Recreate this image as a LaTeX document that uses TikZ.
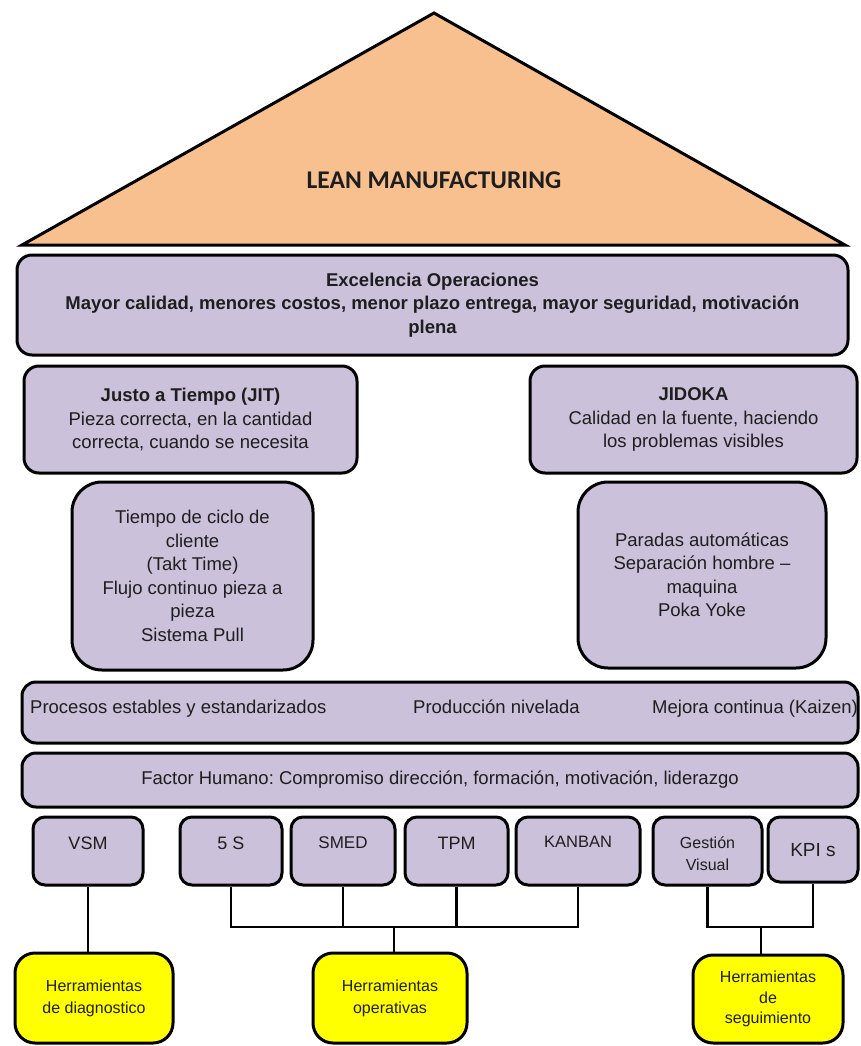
\documentclass[tikz,border=0pt]{standalone}
\usepackage{fontspec}
\setmainfont{Liberation Sans}
\newfontfamily\rooffont{Carlito}
\definecolor{lav}{HTML}{CCC1DA}
\definecolor{roofc}{HTML}{F9C08F}
\definecolor{yel}{HTML}{FFFF00}
\definecolor{txt}{HTML}{1E1E1E}
\newcommand\setfs[2]{\fontsize{#1}{#2}\selectfont}
\frenchspacing
\begin{document}
\begin{tikzpicture}[x=1pt,y=-1pt,
  box/.style={draw=black, line width=3pt, fill=lav, rounded corners=15pt,
    inner sep=0pt, align=center, text=txt, font={\setfs{18.5}{23.5}}},
  pillar/.style={box, rounded corners=30pt},
  band/.style={box, rounded corners=14pt},
  tool/.style={box, rounded corners=12pt},
  ybox/.style={box, fill=yel, rounded corners=20pt, font={\setfs{16}{22}}},
  lbl/.style={inner sep=0pt, text=txt, align=center, font={\setfs{18.5}{23.5}}},
  conn/.style={draw=black, line width=2.6pt}
]
\useasboundingbox (0,0) rectangle (860,1046);

% roof
\draw[line width=3pt, fill=roofc, line join=miter] (22,245) -- (434,13) -- (845,245) -- cycle;
\node[inner sep=0pt, text=txt, font={\rooffont\bfseries\setfs{25.5}{30}}] (roof) at (434,180) {LEAN MANUFACTURING};

% goal
\node[box, minimum width=831pt, minimum height=100pt, font={\bfseries\setfs{18.5}{23.5}}] (goal) at (432.5,305)
  {Excelencia Operaciones\\Mayor calidad, menores costos, menor plazo entrega, mayor seguridad, motivación\\plena};

% two pillars: heads
\node[box, minimum width=333pt, minimum height=107pt] (jit) at (190.5,419.5)
  {\textbf{Justo a Tiempo (JIT)}\\Pieza correcta, en la cantidad\\correcta, cuando se necesita};
\node[box, minimum width=327pt, minimum height=107pt] (jidoka) at (693.5,419.5)
  {\textbf{JIDOKA}\\Calidad en la fuente, haciendo\\los problemas visibles};

% two pillars: bodies
\node[pillar, minimum width=241pt, minimum height=188pt] (jitbody) at (192.5,576)
  {Tiempo de ciclo de\\cliente\\(Takt Time)\\Flujo continuo pieza a\\pieza\\Sistema Pull};
\node[pillar, minimum width=248pt, minimum height=186pt] (jidbody) at (702,575)
  {Paradas automáticas\\Separación hombre –\\maquina\\Poka Yoke};

% foundations
\node[band, minimum width=836pt, minimum height=61pt] (proc) at (440,712.5) {};
\node[lbl, anchor=base west] (proc1) at (30,713.5) {Procesos estables y estandarizados};
\node[lbl, anchor=base west] (proc2) at (413,713.5) {Producción nivelada};
\node[lbl, anchor=base west] (proc3) at (652,713.5) {Mejora continua (Kaizen)};
\node[band, minimum width=836pt, minimum height=54pt] (human) at (440,780)
  {Factor Humano: Compromiso dirección, formación, motivación, liderazgo};

% tools
\node[tool, minimum width=110pt, minimum height=68pt] (vsm) at (88,851) {};
\node[tool, minimum width=102pt, minimum height=68pt] (fives) at (231,851) {};
\node[tool, minimum width=104pt, minimum height=68pt] (smed) at (343,851) {};
\node[tool, minimum width=103pt, minimum height=68pt] (tpm) at (456.5,851) {};
\node[tool, minimum width=124pt, minimum height=68pt] (kanban) at (578,851) {};
\node[tool, minimum width=109pt, minimum height=68pt] (gv) at (707.5,851) {};
\node[tool, minimum width=90pt, minimum height=65pt] (kpi) at (813,849.5) {};
\node[lbl, font={\setfs{18}{22}}] (vsmt) at (88,843) {VSM};
\node[lbl, font={\setfs{18}{22}}] (fivest) at (231,843) {5 S};
\node[lbl, font={\setfs{17}{22}}] (smedt) at (343,843) {SMED};
\node[lbl, font={\setfs{18}{22}}] (tpmt) at (456.5,843) {TPM};
\node[lbl, font={\setfs{16.5}{22}}] (kanbant) at (578,842) {KANBAN};
\node[lbl, font={\setfs{16}{22}}] (gvt) at (707.5,854) {Gestión\\Visual};
\node[lbl, font={\setfs{19}{22}}] (kpit) at (813,850) {KPI s};

% tool families
\node[ybox, minimum width=158pt, minimum height=90pt] (diag) at (94,998) {Herramientas\\de diagnostico};
\node[ybox, minimum width=154pt, minimum height=90pt] (oper) at (390,998) {Herramientas\\operativas};
\node[ybox, minimum width=150pt, minimum height=88pt, font={\setfs{16}{20.5}}] (seg) at (768,999) {Herramientas\\de\\seguimiento};

% connectors
\coordinate (opbus) at (394,927);
\coordinate (sgbus) at (761,927);
\draw[conn] (vsm.south) -- (vsm.south |- diag.north);
\draw[conn] (fives.south) -- (fives.south |- opbus) -- (kanban.south |- opbus) -- (kanban.south);
\draw[conn] (smed.south) -- (smed.south |- opbus);
\draw[conn] (tpm.south) -- (tpm.south |- opbus);
\draw[conn] (opbus) -- (opbus |- oper.north);
\draw[conn] (gv.south) -- (gv.south |- sgbus) -- (kpi.south |- sgbus) -- (kpi.south);
\draw[conn] (sgbus) -- (sgbus |- seg.north);
\end{tikzpicture}
\end{document}
